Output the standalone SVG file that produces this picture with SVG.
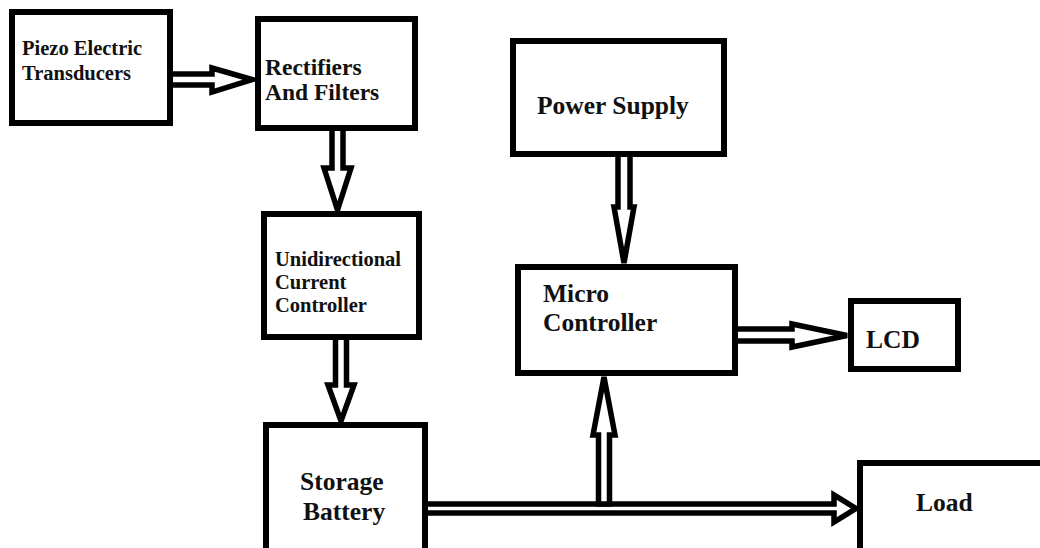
<svg xmlns="http://www.w3.org/2000/svg" width="1040" height="548" viewBox="0 0 1040 548">
<style>
.box{fill:#fff;stroke:#000;stroke-width:6}
.arr{fill:#fff;stroke:#000;stroke-width:5.5;stroke-linejoin:miter;stroke-miterlimit:4}
text{font-family:"Liberation Serif","Times New Roman",serif;font-weight:bold;fill:#111}
.s20{font-size:20.5px}.s23{font-size:23.5px}.s25{font-size:25.5px}
</style>
<rect width="1040" height="548" fill="#fff"/>
<g id="connectors">
<polygon class="arr" points="170,74 212,74 212,68 252,79.5 212,92 212,85 170,85"/>
<polygon class="arr" points="332,128 332,168 324,168 337.5,210 351,168 343,168 343,128"/>
<polygon class="arr" points="335.5,337 335.5,385 328,385 341,421 354,385 346.5,385 346.5,337"/>
<polygon class="arr" points="618,154 618,207 614,207 624,263 634,207 630,207 630,154"/>
<polygon class="arr" points="735,329 792,329 792,324 847,335.5 792,347 792,341 735,341"/>
<polygon class="arr" points="425,504 834,504 834,495 856,508.5 834,522 834,513 425,513"/>
<polygon class="arr" points="598.5,504 598.5,435 593,435 604,377 615,435 609.5,435 609.5,504"/>
</g>
<g id="piezo"><rect class="box" x="12" y="12" width="158" height="111"/>
<text class="s20" x="22" y="55">Piezo Electric</text><text class="s20" x="22" y="80">Transducers</text></g>
<g id="rectifiers"><rect class="box" x="258" y="19" width="157" height="109"/>
<text class="s23" x="265" y="75">Rectifiers</text><text class="s23" x="265" y="100">And Filters</text></g>
<g id="unidirectional"><rect class="box" x="264" y="214" width="155" height="123"/>
<text class="s20" x="275" y="266">Unidirectional</text><text class="s20" x="275" y="289">Current</text><text class="s20" x="275" y="312">Controller</text></g>
<g id="battery"><rect class="box" x="266" y="425" width="159" height="130"/>
<text class="s25" x="300" y="490">Storage</text><text class="s25" x="303" y="520">Battery</text></g>
<g id="power"><rect class="box" x="513" y="41" width="211" height="113"/>
<text class="s25" x="537" y="114">Power Supply</text></g>
<g id="micro"><rect class="box" x="518" y="267" width="217" height="106"/>
<text class="s25" x="543" y="302">Micro</text><text class="s25" x="543" y="331">Controller</text></g>
<g id="lcd"><rect class="box" x="851" y="301" width="107" height="68"/>
<text class="s25" x="866" y="348">LCD</text></g>
<g id="load"><rect class="box" x="860" y="463" width="190" height="90"/>
<text class="s25" x="916" y="511">Load</text></g>
</svg>
